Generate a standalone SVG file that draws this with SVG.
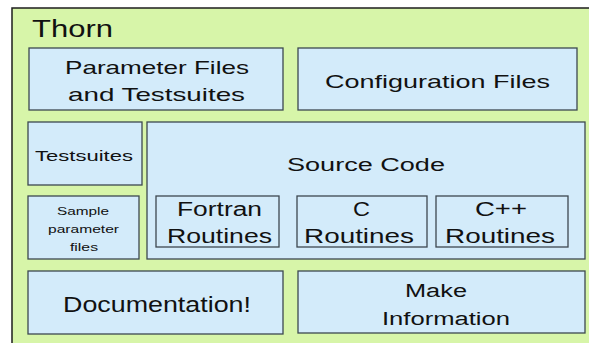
<svg xmlns="http://www.w3.org/2000/svg" width="589" height="343" viewBox="0 0 589 343">
<style>
.outer{fill:#d7f5a9;stroke:#1e1e1e;stroke-width:1.5}
.box{fill:#d3ebfa;stroke:#3c4850;stroke-width:1.3}
text{font-family:"Liberation Sans",Arial,sans-serif;fill:#111;text-anchor:start}
.t18{font-size:18.5px}
.t20{font-size:20px}
.t15{font-size:15px}
.t11{font-size:11px}
</style>
<rect width="589" height="343" fill="#ffffff"/>
<g id="thorn">
<rect class="outer" x="12" y="8" width="590" height="345"/>
<text x="32" y="37" style="font-size:23.5px" textLength="81" lengthAdjust="spacingAndGlyphs">Thorn</text>
</g>
<g id="paramfiles">
<rect class="box" x="29" y="48" width="254" height="62"/>
<text class="t18" x="65" y="74" textLength="184" lengthAdjust="spacingAndGlyphs">Parameter Files</text>
<text class="t18" x="68" y="101" textLength="177" lengthAdjust="spacingAndGlyphs">and Testsuites</text>
</g>
<g id="configfiles">
<rect class="box" x="298" y="48" width="279" height="62"/>
<text x="325" y="88" style="font-size:19px" textLength="225" lengthAdjust="spacingAndGlyphs">Configuration Files</text>
</g>
<g id="testsuites">
<rect class="box" x="28" y="122" width="114" height="63"/>
<text class="t15" x="35" y="161" textLength="98" lengthAdjust="spacingAndGlyphs">Testsuites</text>
</g>
<g id="sample">
<rect class="box" x="28" y="196" width="111" height="63"/>
<text class="t11" x="57" y="215" textLength="52" lengthAdjust="spacingAndGlyphs">Sample</text>
<text class="t11" x="48" y="233" textLength="71" lengthAdjust="spacingAndGlyphs">parameter</text>
<text class="t11" x="70" y="251" textLength="28" lengthAdjust="spacingAndGlyphs">files</text>
</g>
<g id="sourcecode">
<rect class="box" x="147" y="122" width="438" height="137"/>
<text x="287" y="171" style="font-size:18px" textLength="158" lengthAdjust="spacingAndGlyphs">Source Code</text>
</g>
<g id="fortran">
<rect class="box" x="156" y="196" width="123" height="51"/>
<text class="t20" x="177" y="216" textLength="85" lengthAdjust="spacingAndGlyphs">Fortran</text>
<text class="t20" x="167" y="243" textLength="105" lengthAdjust="spacingAndGlyphs">Routines</text>
</g>
<g id="c">
<rect class="box" x="297" y="196" width="130" height="51"/>
<text class="t20" x="353" y="216" textLength="17" lengthAdjust="spacingAndGlyphs">C</text>
<text class="t20" x="304" y="243" textLength="110" lengthAdjust="spacingAndGlyphs">Routines</text>
</g>
<g id="cpp">
<rect class="box" x="436" y="196" width="132" height="51"/>
<text class="t20" x="475" y="216" textLength="52" lengthAdjust="spacingAndGlyphs">C++</text>
<text class="t20" x="445" y="243" textLength="110" lengthAdjust="spacingAndGlyphs">Routines</text>
</g>
<g id="documentation">
<rect class="box" x="28" y="271" width="255" height="63"/>
<text x="63" y="312" style="font-size:22px" textLength="188" lengthAdjust="spacingAndGlyphs">Documentation!</text>
</g>
<g id="make">
<rect class="box" x="298" y="271" width="287" height="62"/>
<text x="405" y="297" style="font-size:18px" textLength="62" lengthAdjust="spacingAndGlyphs">Make</text>
<text x="382" y="325" style="font-size:18px" textLength="128" lengthAdjust="spacingAndGlyphs">Information</text>
</g>
<g id="connectors"/>
</svg>
